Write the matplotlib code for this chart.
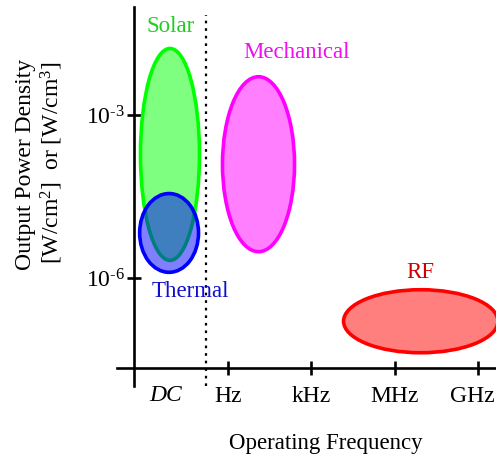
import matplotlib
matplotlib.use("Agg")
import matplotlib.pyplot as plt
import matplotlib.transforms as mtransforms
from matplotlib.patches import Ellipse

plt.rcParams['font.family'] = ['Liberation Serif', 'DejaVu Serif']
plt.rcParams['mathtext.fontset'] = 'custom'
plt.rcParams['mathtext.rm'] = 'Liberation Serif'
plt.rcParams['mathtext.it'] = 'Liberation Serif:italic'

# Sources: frequency range (log10 Hz) and power-density range (log10 W/cm^2)
sources = ["Solar", "Thermal", "Mechanical", "RF"]
freq_lo = [-3.17, -3.20, -0.21, 4.16]
freq_hi = [-1.04, -1.075, 2.39, 9.73]
pow_lo = [-5.67, -5.89, -5.51, -7.37]
pow_hi = [-1.77, -4.44, -2.29, -6.21]
edge_colors = ["#00ff00", "#0000ff", "#ff00ff", "#ff0000"]
text_colors = ["#22cc22", "#1010cc", "#ee10ee", "#cc0000"]
label_x = [-2.09, -1.38, 2.48, 6.92]
label_y = [-1.375, -6.234, -1.853, -5.884]

freq_ticks = [0, 3, 6, 9]
freq_labels = ["Hz", "kHz", "MHz", "GHz"]
dc_pos = -2.246
dc_line = -0.805
dc_line_top = -1.154
pow_ticks = [-3, -6]
pow_labels = [r"10$^{\text{-}3}$", r"10$^{\text{-}6}$"]

W, H = 496, 461
fig = plt.figure(figsize=(W / 100, H / 100), dpi=100)
ax = fig.add_axes([117 / W, 1 - 386 / H, (W - 117) / W, (386 - 7) / H])
ax.set_xlim(-4.017, 9.661)
ax.set_ylim(-7.982, -1.007)

for sp in ["top", "right"]:
    ax.spines[sp].set_visible(False)
ax.spines["left"].set_position(("data", -3.392))
ax.spines["bottom"].set_position(("data", -7.651))
for sp in ["left", "bottom"]:
    ax.spines[sp].set_linewidth(1.9)

zorders = {"Solar": (2, 2.2), "Thermal": (2.5, 3), "Mechanical": (4, 4.2), "RF": (5, 5.2)}
for i in range(len(sources)):
    cx = (freq_lo[i] + freq_hi[i]) / 2
    cy = (pow_lo[i] + pow_hi[i]) / 2
    w = freq_hi[i] - freq_lo[i]
    h = pow_hi[i] - pow_lo[i]
    zf, ze = zorders[sources[i]]
    ax.add_patch(Ellipse((cx, cy), w, h, facecolor=edge_colors[i], alpha=0.5,
                         edgecolor='none', zorder=zf))
    ax.add_patch(Ellipse((cx, cy), w, h, facecolor='none', edgecolor=edge_colors[i],
                         linewidth=2.6, zorder=ze))
    ax.text(label_x[i], label_y[i], sources[i], color=text_colors[i],
            fontsize=16.5, ha='center', va='center', zorder=10)

ax.vlines(dc_line, -7.982, dc_line_top, color='black',
          linestyle=(0, (1.2, 2.2)), linewidth=1.6, zorder=1)

ax.set_xticks(freq_ticks, freq_labels)
ax.set_xticks([dc_pos], ["DC"], minor=True)
ax.set_yticks(pow_ticks, pow_labels)
ax.tick_params(axis='both', which='major', direction='inout', length=10,
               width=1.9, labelsize=17, pad=2)
ax.tick_params(axis='x', which='major', pad=8)
ax.tick_params(axis='x', which='minor', length=0, labelsize=17, pad=12)
for lab in ax.get_xticklabels(minor=True):
    lab.set_fontstyle('italic')
ghz = ax.get_xticklabels()[-1]
ghz.set_transform(ghz.get_transform() +
                  mtransforms.ScaledTranslation(-5 / 100, 0, fig.dpi_scale_trans))

fig.text(326 / W, 1 - 443 / H, "Operating Frequency", fontsize=16.5,
         ha='center', va='center')
fig.text(26 / W, 1 - 164 / H, "Output Power Density", fontsize=17,
         ha='center', va='center', rotation=90)
fig.text(52 / W, 1 - 163 / H, "[W/cm$^2$]  or [W/cm$^3$]", fontsize=17,
         ha='center', va='center', rotation=90)

fig.savefig("out.png", dpi=100)
